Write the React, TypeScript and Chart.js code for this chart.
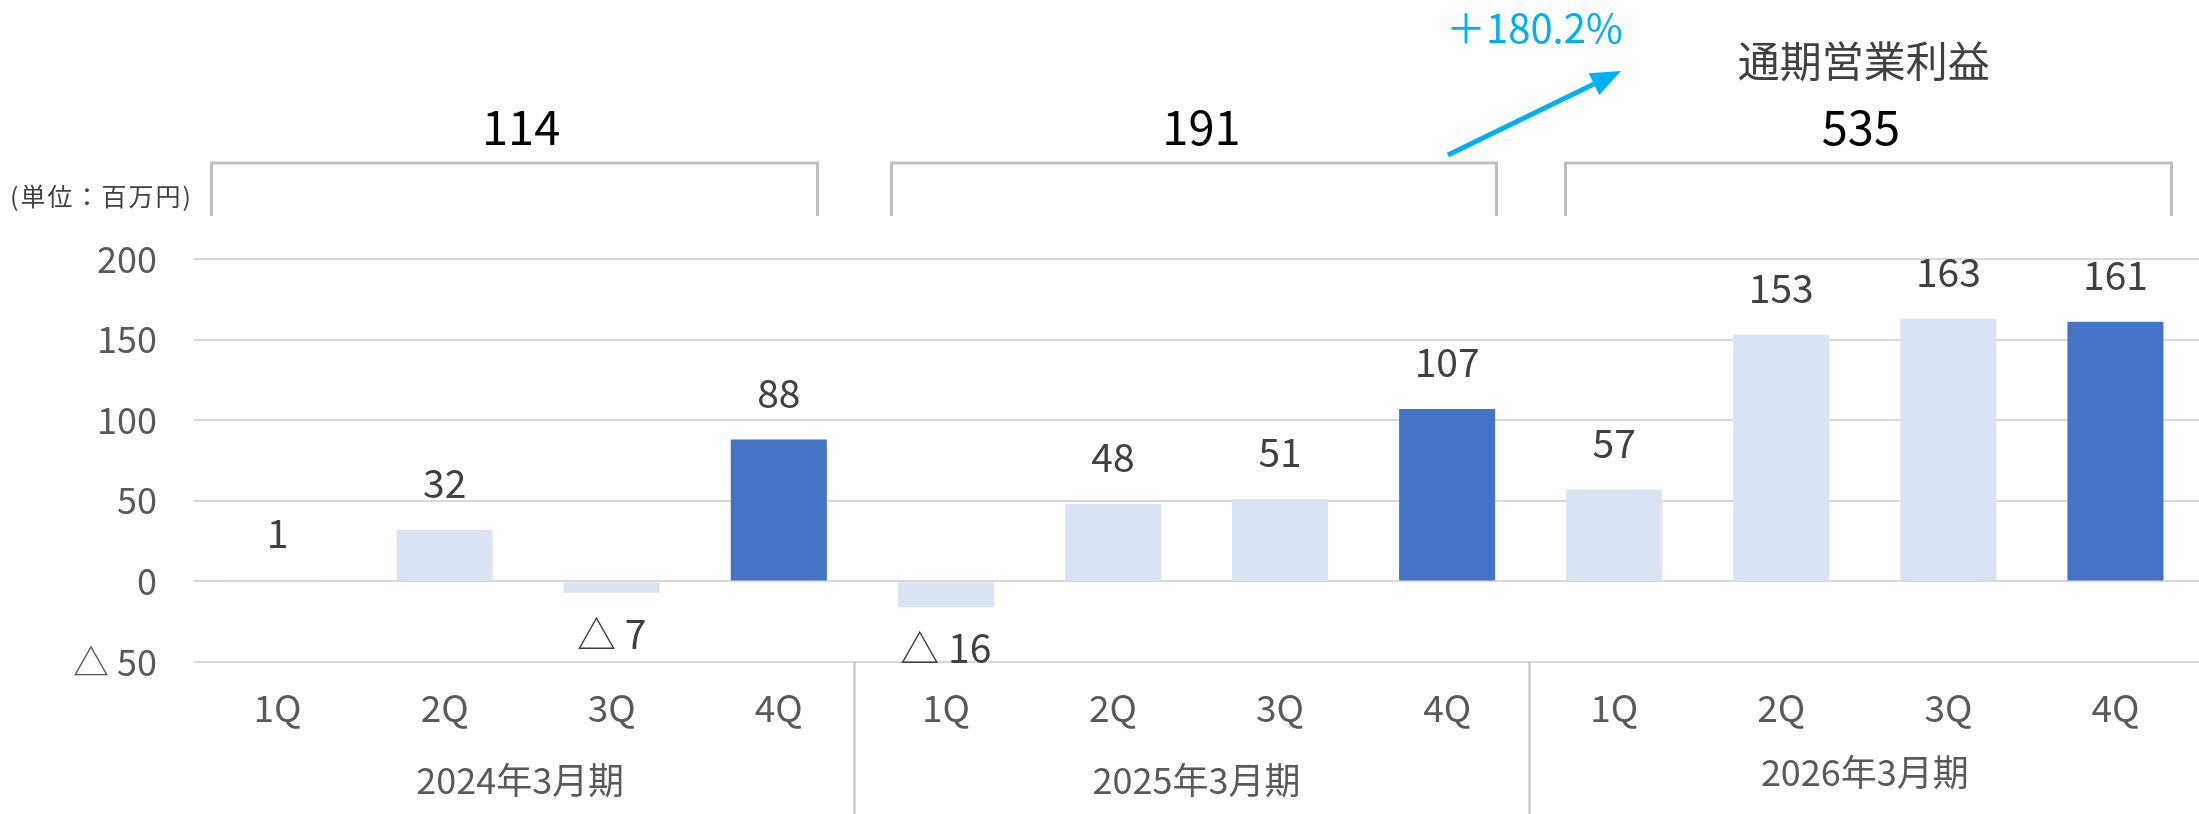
import React, { useEffect, useRef } from "react";
import { Chart, registerables } from "chart.js";

Chart.register(...registerables);

const QUARTERS = ["1Q", "2Q", "3Q", "4Q", "1Q", "2Q", "3Q", "4Q", "1Q", "2Q", "3Q", "4Q"];
const FISCAL_YEARS = ["2024年3月期", "2025年3月期", "2026年3月期"];
const OPERATING_PROFIT = [1, 32, -7, 88, -16, 48, 51, 107, 57, 153, 163, 161];
const IS_Q4 = [false, false, false, true, false, false, false, true, false, false, false, true];
const ANNUAL_TOTALS = ["114", "191", "535"];
const ANNUAL_TITLE = "通期営業利益";
const GROWTH_LABEL = "＋180.2%";
const UNIT_LABEL = "(単位：百万円)";
const Y_MIN = -50;
const Y_MAX = 200;
const Y_STEP = 50;

const FONT = "'Noto Sans CJK JP', 'Noto Sans', sans-serif";
const LIGHT = "#DAE3F3";
const DARK = "#4472C4";
const GREY_TEXT = "#595959";
const DARK_TEXT = "#404040";
const LINE = "#BFBFBF";
const CYAN = "#00B0F0";

const fmt = (v: number) => (v < 0 ? `△ ${Math.abs(v)}` : `${v}`);

const annotations = {
  id: "annotations",
  afterDraw(chart: any) {
    const ctx = chart.ctx as CanvasRenderingContext2D;
    const xs = chart.scales.x;
    const area = chart.chartArea;
    const H = chart.height;
    const catW = xs.getPixelForValue(1) - xs.getPixelForValue(0);
    const groupCenter = (g: number) =>
      (xs.getPixelForValue(g * 4) + xs.getPixelForValue(g * 4 + 3)) / 2;
    ctx.save();

    // quarter labels
    ctx.fillStyle = GREY_TEXT;
    ctx.textAlign = "center";
    ctx.textBaseline = "middle";
    ctx.font = `37px ${FONT}`;
    QUARTERS.forEach((q, i) => {
      ctx.fillText(q, xs.getPixelForValue(i), area.bottom + 46);
    });

    // fiscal year labels
    ctx.font = `36px ${FONT}`;
    FISCAL_YEARS.forEach((y, g) => {
      const dy = g === 2 ? -8 : 0;
      const dx = g === 0 ? -8 : 0;
      ctx.fillText(y, groupCenter(g) + dx, area.bottom + 118 + dy);
    });

    // group separators
    ctx.strokeStyle = LINE;
    ctx.lineWidth = 2;
    for (let g = 1; g < FISCAL_YEARS.length; g++) {
      const dx = g === 1 ? -8 : -2;
      const sx =
        Math.round((xs.getPixelForValue(g * 4 - 1) + xs.getPixelForValue(g * 4)) / 2) + dx + 0.5;
      ctx.beginPath();
      ctx.moveTo(sx, area.bottom);
      ctx.lineTo(sx, H);
      ctx.stroke();
    }

    // data labels
    const meta = chart.getDatasetMeta(0);
    ctx.fillStyle = DARK_TEXT;
    ctx.font = `39px ${FONT}`;
    ctx.textBaseline = "alphabetic";
    meta.data.forEach((bar: any, i: number) => {
      const v = OPERATING_PROFIT[i];
      const ty = v >= 0 ? bar.y - 32 : bar.y + 56;
      ctx.fillText(fmt(v), bar.x, ty);
    });

    // brackets + totals
    const bracketTop = 163;
    const bracketBottom = 216;
    const halfW = 1.813 * catW;
    const bracketShift = [-14, -3, 3];
    const labelShift = [-7, 5, -4];
    ANNUAL_TOTALS.forEach((t, g) => {
      const c = groupCenter(g) + bracketShift[g];
      const left = Math.round(c - halfW) + 0.5;
      const right = Math.round(c + halfW) + 0.5;
      ctx.strokeStyle = LINE;
      ctx.lineWidth = 3;
      ctx.beginPath();
      ctx.moveTo(left, bracketBottom);
      ctx.lineTo(left, bracketTop);
      ctx.lineTo(right, bracketTop);
      ctx.lineTo(right, bracketBottom);
      ctx.stroke();
      ctx.fillStyle = "#000000";
      ctx.font = `47px ${FONT}`;
      ctx.textAlign = "center";
      ctx.fillText(t, groupCenter(g) + labelShift[g], 145);
    });

    // annual title
    ctx.fillStyle = DARK_TEXT;
    ctx.font = `42px ${FONT}`;
    ctx.textAlign = "center";
    ctx.fillText(ANNUAL_TITLE, groupCenter(2) - 1, 77);

    // growth label
    ctx.fillStyle = CYAN;
    ctx.textAlign = "left";
    ctx.font = `40px ${FONT}`;
    ctx.fillText(GROWTH_LABEL, 1446, 43);

    // arrow
    const x0 = 1448, y0 = 155, x1 = 1621, y1 = 71;
    const ang = Math.atan2(y1 - y0, x1 - x0);
    const headLen = 30;
    const headHalf = 12;
    const bx = x1 - headLen * Math.cos(ang);
    const by = y1 - headLen * Math.sin(ang);
    ctx.strokeStyle = CYAN;
    ctx.lineWidth = 5;
    ctx.beginPath();
    ctx.moveTo(x0, y0);
    ctx.lineTo(bx, by);
    ctx.stroke();
    ctx.fillStyle = CYAN;
    ctx.beginPath();
    ctx.moveTo(x1, y1);
    ctx.lineTo(bx + headHalf * Math.sin(ang), by - headHalf * Math.cos(ang));
    ctx.lineTo(bx - headHalf * Math.sin(ang), by + headHalf * Math.cos(ang));
    ctx.closePath();
    ctx.fill();

    // unit label
    ctx.fillStyle = DARK_TEXT;
    ctx.font = `25px ${FONT}`;
    (ctx as any).letterSpacing = "2px";
    ctx.textAlign = "left";
    ctx.textBaseline = "middle";
    ctx.fillText(UNIT_LABEL, 10, 196);
    (ctx as any).letterSpacing = "0px";

    ctx.restore();
  },
};

export default function App() {
  const ref = useRef<HTMLCanvasElement | null>(null);

  useEffect(() => {
    document.body.style.margin = "0";
    const canvas = ref.current;
    if (!canvas) return;
    const chart = new Chart(canvas, {
      type: "bar",
      data: {
        labels: QUARTERS.map((q, i) => `${FISCAL_YEARS[Math.floor(i / 4)]} ${q}`),
        datasets: [
          {
            data: OPERATING_PROFIT,
            backgroundColor: IS_Q4.map((d) => (d ? DARK : LIGHT)),
            borderWidth: 0,
            barPercentage: 0.575,
            categoryPercentage: 1,
          },
        ],
      },
      options: {
        responsive: false,
        animation: false,
        devicePixelRatio: 1,
        layout: { padding: { top: 259, bottom: 152, left: 0, right: -4 } },
        plugins: { legend: { display: false }, tooltip: { enabled: false } },
        scales: {
          x: { display: false },
          y: {
            min: Y_MIN,
            max: Y_MAX,
            afterFit: (s: any) => {
              s.width = 194;
            },
            ticks: {
              stepSize: Y_STEP,
              padding: 37,
              color: GREY_TEXT,
              font: { family: FONT, size: 36 },
              callback: (v: any) => fmt(Number(v)),
            },
            grid: { color: "#D9D9D9", lineWidth: 2, drawTicks: false },
            border: { display: false },
          },
        },
      },
      plugins: [annotations],
    });
    return () => chart.destroy();
  }, []);

  return (
    <div style={{ width: 2199, height: 814 }}>
      <canvas ref={ref} width={2199} height={814} style={{ display: "block" }} />
    </div>
  );
}
